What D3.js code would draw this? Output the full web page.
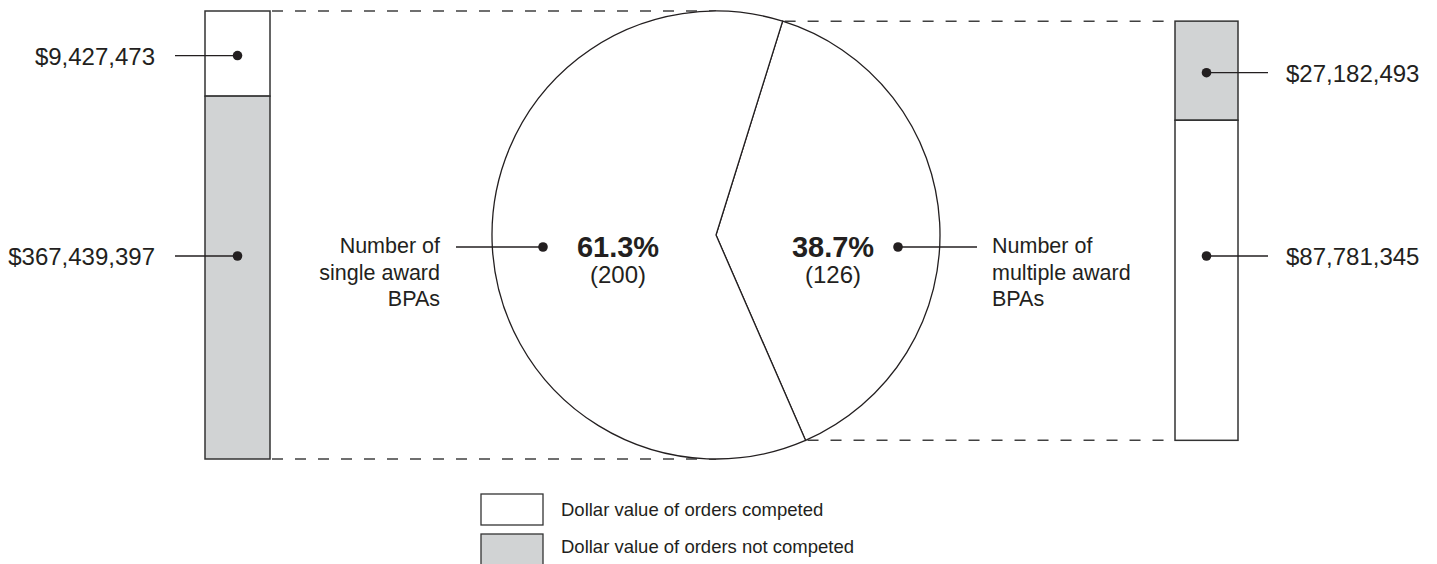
<!DOCTYPE html>
<html><head><meta charset="utf-8">
<script src="https://cdn.jsdelivr.net/npm/d3@7"></script>
<style>
body{margin:0;background:#fff}
svg{display:block}
text{font-family:"Liberation Sans",Arial,Helvetica,sans-serif;fill:#231f20}
</style>
</head><body>
<svg id="chart" width="1437" height="564"></svg>
<script>
// ---- data ----
const bpaTypes = ["multiple", "single"];
const bpaCounts = [126, 200];
const bpaPercents = ["38.7%", "61.3%"];
const bpaLabelLines = [["Number of", "multiple award", "BPAs"], ["Number of", "single award", "BPAs"]];
const singleBarStatus = ["competed", "notCompeted"];
const singleBarValues = [9427473, 367439397];
const multipleBarStatus = ["notCompeted", "competed"];
const multipleBarValues = [27182493, 87781345];
const legendStatus = ["competed", "notCompeted"];
const legendLabels = ["Dollar value of orders competed", "Dollar value of orders not competed"];

// ---- layout ----
const svg = d3.select("#chart");
const ink = "#231f20";
const fillFor = s => s === "competed" ? "#ffffff" : "#d1d3d4";
const fmt = d3.format("$,");
const cx = 716, cy = 235, r = 224;
const a0 = 17.3 * Math.PI / 180;
const minShare = 0.19;

const arcs = d3.pie().sort(null).startAngle(a0).endAngle(a0 + 2 * Math.PI)(bpaCounts);
const arcGen = d3.arc().innerRadius(0).outerRadius(r);
const pt = a => [cx + r * Math.sin(a), cy - r * Math.cos(a)];

const bars = [
  {status: singleBarStatus, values: singleBarValues, x: 205, w: 65, top: cy - r, bottom: cy + r, side: "left"},
  {status: multipleBarStatus, values: multipleBarValues, x: 1175, w: 63,
   top: pt(arcs[0].startAngle)[1], bottom: pt(arcs[0].endAngle)[1], side: "right"}
];

// dashed connectors
const dash = svg.append("g").attr("stroke", "#404040").attr("stroke-width", 1.5)
  .attr("stroke-dasharray", "11,12").attr("fill", "none");
const pS = pt(arcs[0].startAngle), pE = pt(arcs[0].endAngle);
dash.append("line").attr("x1", bars[0].x + bars[0].w + 2).attr("x2", cx).attr("y1", cy - r).attr("y2", cy - r);
dash.append("line").attr("x1", bars[0].x + bars[0].w + 2).attr("x2", cx).attr("y1", cy + r).attr("y2", cy + r);
dash.append("line").attr("x1", pS[0] + 2).attr("x2", bars[1].x).attr("y1", pS[1]).attr("y2", pS[1]);
dash.append("line").attr("x1", pE[0] + 2).attr("x2", bars[1].x).attr("y1", pE[1]).attr("y2", pE[1]);

// pie
svg.append("g").attr("transform", `translate(${cx},${cy})`)
  .selectAll("path").data(arcs).join("path")
  .attr("d", arcGen).attr("fill", "#fff").attr("stroke", ink).attr("stroke-width", 1.3);

// bars
bars.forEach(b => {
  const total = d3.sum(b.values);
  let shares = b.values.map(v => v / total);
  const small = shares.map(s => s < minShare);
  const fixed = d3.sum(shares.filter((s, i) => small[i]).map(() => minShare));
  const rest = d3.sum(shares.filter((s, i) => !small[i]));
  shares = shares.map((s, i) => small[i] ? minShare : s / rest * (1 - fixed));
  const y = d3.scaleLinear().domain([0, 1]).range([b.top, b.bottom]);
  let cum = 0;
  const segs = shares.map((s, i) => { const o = {y0: y(cum), y1: y(cum + s), status: b.status[i], value: b.values[i], i}; cum += s; return o; });
  const g = svg.append("g");
  g.selectAll("rect").data(segs).join("rect")
    .attr("x", b.x).attr("width", b.w)
    .attr("y", d => d.y0).attr("height", d => d.y1 - d.y0)
    .attr("fill", d => fillFor(d.status)).attr("stroke", "#333").attr("stroke-width", 1.5);
  const mx = b.x + b.w / 2;
  segs.forEach(d => {
    const ly = d.i === 0 ? (d.y0 + d.y1) / 2 + 2 : cy + 21;
    const lx = b.side === "left" ? 175 : 1268;
    g.append("line").attr("x1", lx).attr("x2", mx).attr("y1", ly).attr("y2", ly).attr("stroke", ink).attr("stroke-width", 1.3);
    g.append("circle").attr("cx", mx).attr("cy", ly).attr("r", 4.8).attr("fill", ink);
    g.append("text").attr("x", b.side === "left" ? 155 : 1286).attr("y", ly).attr("dy", "0.38em")
      .attr("text-anchor", b.side === "left" ? "end" : "start")
      .style("font-size", "24px").text(fmt(d.value));
  });
});

// pie labels
const pieLab = [
  {px: cx + 117, dotX: 898, lineX: 977, textX: 992, anchor: "start"},
  {px: cx - 98, dotX: 543, lineX: 456, textX: 440, anchor: "end"}
];
arcs.forEach((a, i) => {
  const L = pieLab[i];
  const g = svg.append("g");
  g.append("text").attr("x", L.px).attr("y", 257).attr("text-anchor", "middle")
    .style("font-size", "29px").style("font-weight", "bold").text(bpaPercents[i]);
  g.append("text").attr("x", L.px).attr("y", 283).attr("text-anchor", "middle")
    .style("font-size", "24px").text(`(${bpaCounts[i]})`);
  const dy = 247;
  g.append("line").attr("x1", L.dotX).attr("x2", L.lineX).attr("y1", dy).attr("y2", dy).attr("stroke", ink).attr("stroke-width", 1.3);
  g.append("circle").attr("cx", L.dotX).attr("cy", dy).attr("r", 4.8).attr("fill", ink);
  g.selectAll("text.lab").data(bpaLabelLines[i]).join("text").attr("class", "lab")
    .attr("x", L.textX).attr("y", (d, k) => 253 + k * 26.5).attr("text-anchor", L.anchor)
    .style("font-size", "21.5px").text(d => d);
});

// legend
const lg = svg.append("g");
legendLabels.forEach((t, i) => {
  lg.append("rect").attr("x", 481).attr("y", 494 + i * 40).attr("width", 62).attr("height", 31)
    .attr("fill", fillFor(legendStatus[i])).attr("stroke", "#333").attr("stroke-width", 1.3);
  lg.append("text").attr("x", 561).attr("y", 516 + i * 37).style("font-size", "18.5px").text(t);
});
</script>
</body></html>
